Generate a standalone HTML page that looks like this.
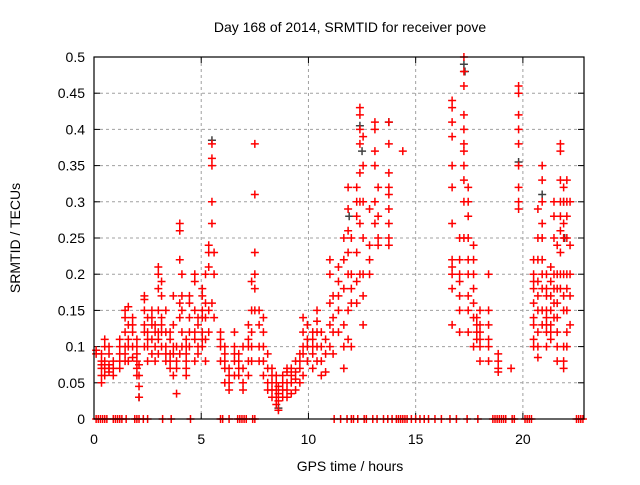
<!DOCTYPE html>
<html><head><meta charset="utf-8"><style>
body{margin:0;background:#fff}
svg text{font-family:"Liberation Sans",sans-serif;font-size:14px;fill:#000}
</style></head><body>
<svg id="chart" width="640" height="480" xmlns="http://www.w3.org/2000/svg">
<rect width="640" height="480" fill="#fff"/>
<g id="grid"></g>
<g id="ticks"></g>
<g id="marks"></g>
<rect x="94" y="57" width="490" height="362" fill="none" stroke="#000" stroke-width="1.2"/>
<text x="350" y="32" text-anchor="middle">Day 168 of 2014, SRMTID for receiver pove</text>
<text x="350" y="471" text-anchor="middle">GPS time / hours</text>
<text x="20" y="238" text-anchor="middle" transform="rotate(-90 20 238)">SRMTID / TECUs</text>
</svg>
<script>
const xTicks=[0,5,10,15,20];
const yTicks=[0,0.05,0.1,0.15,0.2,0.25,0.3,0.35,0.4,0.45,0.5];
const yTickLabels=["0","0.05","0.1","0.15","0.2","0.25","0.3","0.35","0.4","0.45","0.5"];
const stripHours=[0.1,0.35,0.5,0.7,0.9,1.2,1.45,1.6,1.8,2.0,2.1,2.35,2.5,2.7,2.85,3.0,3.15,3.35,3.55,3.7,3.85,4.0,4.1,4.3,4.45,4.7,4.85,5.05,5.2,5.35,5.5,5.6,5.9,6.1,6.3,6.55,6.75,6.95,7.2,7.35,7.5,7.7,7.9,8.1,8.3,8.5,8.6,8.8,9.0,9.2,9.4,9.6,9.75,9.95,10.2,10.4,10.6,10.8,11.0,11.15,11.4,11.65,11.85,12.0,12.25,12.4,12.55,12.85,13.1,13.25,13.75,14.4,16.7,17.05,17.25,17.45,17.7,17.85,18.0,18.4,18.85,19.45,19.8,20.5,20.7,20.9,21.1,21.3,21.45,21.6,21.75,21.9,22.05,22.2];
const stripValues=[
[.09,.095],[.05,.06,.07,.075,.08,.09],[.06,.07,.075,.08,.1,.11],[.065,.07,.075,.09,.1],[.06,.07,.08],
[.07,.08,.09,.1,.11],[.08,.09,.1,.12,.14,.15],[.08,.1,.11,.13,.155],[.085,.1,.12,.13,.14],[.06,.07,.08,.09,.1,.11],
[.03,.045,.06,.075],[.1,.12,.13,.15,.17,.165],[.08,.1,.11,.12,.14],[.09,.11,.13,.14,.15],[.08,.1,.12,.13],
[.09,.11,.12,.15,.18,.2,.21],[.1,.12,.13,.14,.17,.19],[.08,.09,.1,.12,.15],[.07,.08,.09,.11,.12],[.06,.09,.1,.13,.17],
[.035,.07,.08,.1],[.09,.14,.16,.22,.26,.27],[.1,.12,.15,.17,.2],[.06,.07,.08,.09,.1,.11],[.1,.12,.14,.16,.17],
[.08,.11,.12,.15,.2,.19],[.09,.1,.13,.14],[.1,.11,.12,.14,.15,.17,.18],[.08,.11,.14,.16,.2],[.12,.15,.21,.23,.24],
[.16,.27,.3,.36,.38,.35],[.14,.2,.23],[.08,.1,.11,.12],[.05,.07,.08,.09,.1],[.04,.05,.06,.07],
[.06,.08,.09,.1,.12],[.06,.07,.08,.09],[.04,.05,.07,.1],[.06,.08,.1,.11,.13],[.08,.1,.12,.15,.19],
[.38,.31,.23,.2,.18,.15],[.08,.1,.13,.15],[.06,.08,.1,.12,.14],[.04,.05,.07,.09],[.03,.04,.05,.06,.07],
[.02,.03,.04,.05,.06],[.012,.025,.035,.045],[.03,.04,.05,.06],[.03,.04,.05,.065,.07],[.035,.05,.06,.07],
[.04,.055,.065,.08],[.05,.07,.08,.09],[.06,.09,.1,.12,.14],[.08,.1,.11,.13],[.07,.09,.1,.11,.12],
[.08,.1,.12,.135,.15],[.06,.08,.1,.12],[.065,.09,.11],[.1,.13,.16,.2,.22],[.09,.12,.14,.17],
[.12,.15,.17,.19,.21],[.07,.1,.13,.18,.22,.25],[.11,.15,.2,.23,.26,.29,.32],[.1,.16,.18,.2,.25],[.16,.19,.23,.28,.3,.32],
[.2,.27,.3,.34,.38,.4,.43,.42],[.13,.17,.2,.25,.3,.35,.39],[.2,.22,.24,.29],[.27,.3,.35,.37,.4,.41],[.24,.25,.28,.32],
[.24,.25,.27,.29,.31,.32,.34,.38,.41],[.37],
[.44,.43,.41,.39,.35,.32,.27,.22,.21,.2,.18,.13],[.25,.22,.2,.19,.17,.15,.12],[.25,.3,.33,.35,.4,.5,.48,.46,.42,.38,.37],
[.32,.3,.28,.25,.22,.2,.17,.15,.12],[.24,.22,.2,.18,.16,.14,.1],[.14,.13,.12,.11],[.15,.13,.12,.11,.1,.08],
[.2,.15,.13,.11,.1,.08],[.07,.065,.09,.08],[.07],[.46,.45,.42,.4,.38,.35,.32,.3,.29],
[.22,.2,.19,.18,.16,.14,.13,.11,.1],[.29,.25,.22,.19,.17,.15,.12,.1,.085],[.35,.33,.3,.27,.25,.22,.2,.18,.15,.13],
[.2,.18,.17,.15,.14,.13,.12,.1],[.21,.19,.17,.15,.13,.12,.11],[.3,.28,.25,.2,.18,.16,.14],
[.24,.2,.18,.16,.14,.12,.1,.08],[.38,.37,.33,.3,.28,.26,.23,.2,.18],[.32,.3,.27,.25,.2,.17,.15,.1,.08,.07],
[.33,.3,.28,.25,.2,.18,.15,.12,.1],[.3,.24,.2,.17,.13]];
const zeroHours=[0.1,0.2,0.3,0.4,0.5,0.6,0.9,1.0,1.1,1.2,1.3,1.5,1.9,2.0,2.1,2.3,2.5,3.2,3.6,4.5,5.9,6.0,6.3,6.7,6.8,6.9,7.0,7.1,7.4,7.5,11.2,11.5,11.8,12.0,12.1,12.3,12.6,12.7,13.0,13.2,13.5,13.7,13.9,14.1,14.2,14.3,14.4,14.5,14.6,14.8,15.0,15.2,15.4,15.6,15.9,16.2,16.6,16.9,17.4,17.9,18.6,18.7,18.8,18.9,19.0,19.1,19.2,19.5,19.6,20.1,20.2,20.3,20.4,22.5,22.6,22.7,22.8];
const darkHours=[5.5,12.4,12.5,17.25,17.3,13.75,19.8,20.9,21.9,21.95,2.1,11.9,8.6];
const darkValues=[.385,.405,.37,.49,.48,.41,.355,.31,.3,.25,.03,.28,.015];

const X0=94,X1=584,XMAX=22.85,Y0=419,Y1=57,YMAX=0.5;
function xs(h){return X0+(X1-X0)*h/XMAX;}
function ys(v){return Y0-(Y0-Y1)*v/YMAX;}
const NS="http://www.w3.org/2000/svg";
const grid=document.getElementById('grid'),ticks=document.getElementById('ticks'),marks=document.getElementById('marks');
function mk(tag,attrs,parent){const e=document.createElementNS(NS,tag);for(const k in attrs)e.setAttribute(k,attrs[k]);parent.appendChild(e);return e;}
xTicks.forEach(t=>{const x=xs(t);
 if(t>0){const g=mk('line',{x1:x,x2:x,y1:Y1,y2:Y0,stroke:'#a0a0a0','stroke-dasharray':'3,3'},grid);
 
 }
 mk('line',{x1:x,x2:x,y1:Y0,y2:Y0-6,stroke:'#000'},ticks);
 mk('line',{x1:x,x2:x,y1:Y1,y2:Y1+6,stroke:'#000'},ticks);
 const l=mk('text',{x:x,y:Y0+25,'text-anchor':'middle'},ticks);l.textContent=t;
 
 });
yTicks.forEach((t,i)=>{const y=ys(t);
 if(t>0&&t<YMAX){const g=mk('line',{x1:X0,x2:X1,y1:y,y2:y,stroke:'#a0a0a0','stroke-dasharray':'3,3'},grid);
 
 }
 mk('line',{x1:X0,x2:X0+6,y1:y,y2:y,stroke:'#000'},ticks);
 mk('line',{x1:X1,x2:X1-6,y1:y,y2:y,stroke:'#000'},ticks);
 const l=mk('text',{x:X0-9,y:y+5,'text-anchor':'end'},ticks);l.textContent=yTickLabels[i];
 
 });
function plus(h,v,col,name){const x=xs(h),y=ys(v);
 const p=mk('path',{d:`M${x-4},${y}h8M${x},${y-4}v8`,stroke:col,'stroke-width':1.5,fill:'none'},marks);
 
 }
darkHours.forEach((h,i)=>plus(h,darkValues[i],'#404040','dark-point'));
stripHours.forEach((h,i)=>stripValues[i].forEach(v=>plus(h,v,'#ff0000','srmtid-point')));
zeroHours.forEach(h=>plus(h,0,'#ff0000','zero-point'));
</script>
</body></html>
